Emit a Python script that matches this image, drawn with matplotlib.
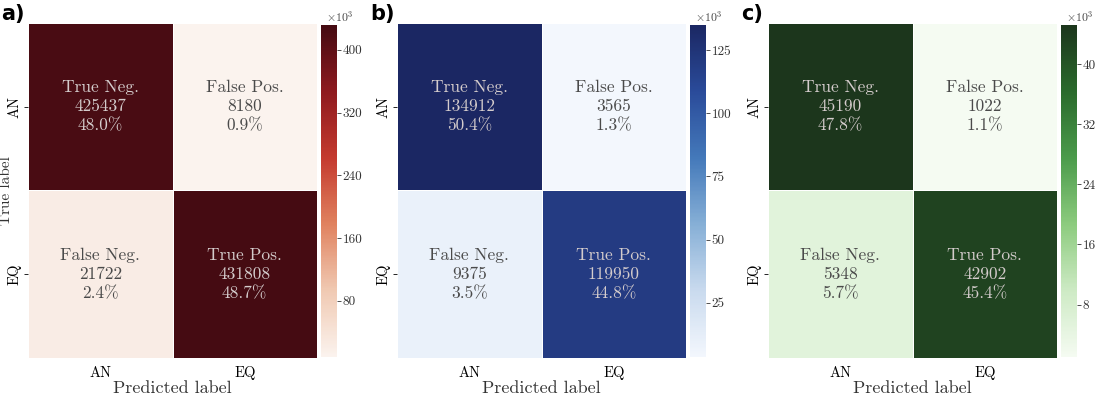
import matplotlib
matplotlib.use("Agg")
import matplotlib.pyplot as plt
import numpy as np
from matplotlib.colors import LinearSegmentedColormap
from matplotlib.ticker import FuncFormatter

plt.rcParams["font.family"] = ["cmr10", "DejaVu Serif"]
plt.rcParams["mathtext.fontset"] = "cm"
plt.rcParams["axes.formatter.use_mathtext"] = True

classes = ["AN", "EQ"]
cell_names = ["True Neg.", "False Pos.", "False Neg.", "True Pos."]
panel_labels = ["a)", "b)", "c)"]

counts_a = [425437, 8180, 21722, 431808]
counts_b = [134912, 3565, 9375, 119950]
counts_c = [45190, 1022, 5348, 42902]

ticks_a = [80, 160, 240, 320, 400]
ticks_b = [25, 50, 75, 100, 125]
ticks_c = [8, 16, 24, 32, 40]

cmap_a = LinearSegmentedColormap.from_list(
    "reds_d", ["#fbf3ee", "#f0c9b2", "#e0825f", "#c43a2f", "#8e1a1f", "#450b12"])
cmap_b = LinearSegmentedColormap.from_list(
    "blues_d", ["#f3f7fd", "#c9daee", "#86afd6", "#4479ba", "#2a4b9a", "#1b2763"])
cmap_c = LinearSegmentedColormap.from_list(
    "greens_d", ["#f5fbf2", "#cdeac4", "#8ccb7e", "#4b9b4b", "#2a6a2c", "#1c361c"])

panels = [
    (counts_a, ticks_a, cmap_a, 28, 321),
    (counts_b, ticks_b, cmap_b, 397, 690),
    (counts_c, ticks_c, cmap_c, 768, 1061),
]

W, H = 1107, 394
fig = plt.figure(figsize=(W / 100, H / 100), dpi=100)

for i, (counts, ticks, cmap, x0, cx0) in enumerate(panels):
    mat = np.array(counts).reshape(2, 2)
    total = mat.sum()
    ax = fig.add_axes([x0 / W, 36 / H, 289 / W, 335 / H])
    cax = fig.add_axes([cx0 / W, 37 / H, 16 / W, 332 / H])

    mesh = ax.pcolormesh(mat, cmap=cmap, vmin=mat.min(), vmax=mat.max(),
                         edgecolor="white", linewidth=0.6)
    ax.set_xlim(0, 2)
    ax.set_ylim(2, 0)
    for spine in ax.spines.values():
        spine.set_visible(False)

    norm_vals = (mat - mat.min()) / (mat.max() - mat.min())
    for r in range(2):
        for c in range(2):
            k = r * 2 + c
            col = "#d4cccc" if norm_vals[r, c] > 0.5 else "#4a4a4a"
            txt = f"{cell_names[k]}\n{mat[r, c]}\n{100 * mat[r, c] / total:.1f}%"
            ax.text(c + 0.5, r + 0.5, txt, ha="center", va="center",
                    fontsize=12.5, color=col, linespacing=1.3)

    ax.set_xticks([0.5, 1.5])
    ax.set_xticklabels(classes, fontsize=10.5)
    ax.set_yticks([0.5, 1.5])
    ax.set_yticklabels(classes, fontsize=10.5, rotation=90, va="center")
    ax.tick_params(axis="x", length=0, pad=6)
    ax.tick_params(axis="y", length=3, width=0.6, pad=2)
    ax.set_xlabel("Predicted label", fontsize=13, labelpad=0, color="#333333")
    if i == 0:
        ax.set_ylabel("True label", fontsize=11, color="#333333")
        ax.yaxis.set_label_coords(-0.052, 0.5)

    cb = fig.colorbar(mesh, cax=cax)
    cb.outline.set_visible(False)
    cb.set_ticks([t * 1000 for t in ticks])
    cb.ax.yaxis.set_major_formatter(FuncFormatter(lambda v, p: f"{v / 1000:.0f}"))
    cb.ax.tick_params(labelsize=9.5, length=3, width=0.6, pad=1, colors="#333333")
    cax.text(0.3, 1.003, r"$\times10^3$", transform=cax.transAxes,
             ha="left", va="bottom", fontsize=8.5, color="#444444")

    fig.text((x0 - 27) / W, 1 - 14 / H, panel_labels[i], fontsize=15,
             fontweight="bold", family="DejaVu Sans", va="center", ha="left")

fig.savefig("out.png", dpi=100)
